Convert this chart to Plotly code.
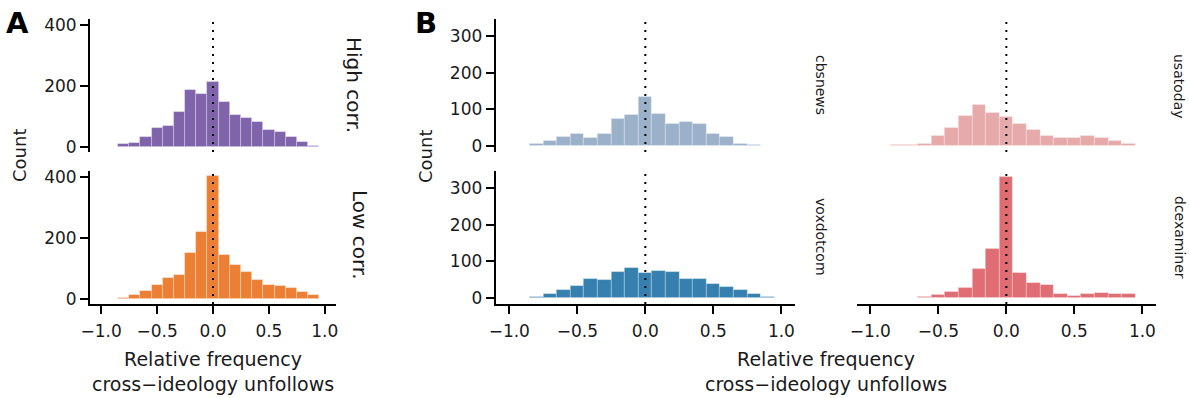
import plotly.graph_objects as go

# ---------------- data ----------------
bin_centers = [-0.8, -0.7, -0.6, -0.5, -0.4, -0.3, -0.2, -0.1, 0.0,
               0.1, 0.2, 0.3, 0.4, 0.5, 0.6, 0.7, 0.8, 0.9]
high_corr = [8, 14, 31, 61, 70, 114, 186, 172, 212, 148, 103, 94, 80, 54, 50, 32, 16, 4]
low_corr = [4, 12, 25, 44, 70, 77, 152, 221, 402, 144, 112, 89, 63, 47, 41, 35, 22, 13]
cbsnews = [7, 14, 25, 34, 22, 33, 75, 85, 133, 87, 59, 67, 61, 32, 24, 7, 2, 0]
usatoday = [2, 2, 5, 28, 49, 81, 111, 89, 80, 61, 45, 28, 21, 23, 27, 23, 15, 6]
voxdotcom = [2, 12, 22, 33, 51, 50, 70, 83, 69, 75, 70, 51, 51, 39, 30, 21, 10, 2]
dcexaminer = [1, 0, 4, 9, 17, 27, 80, 135, 330, 68, 41, 36, 11, 7, 10, 13, 11, 11]

x_tickvals = [-1.0, -0.5, 0.0, 0.5, 1.0]
x_ticktext = ["\u22121.0", "\u22120.5", "0.0", "0.5", "1.0"]
yA_tickvals = [0, 200, 400]
yB_tickvals = [0, 100, 200, 300]

# ---------------- layout helpers ----------------
W, H = 1189, 398
FONT = "DejaVu Sans"
TXT = "#1a1a1a"


def fx(px):
    return px / W


def fy(px):
    return 1 - px / H


fig = go.Figure()

panels = [
    # (values, color, axis suffix)
    (high_corr, "#7F64AC", ""),
    (low_corr, "#EC7F34", "2"),
    (cbsnews, "#9BB0C9", "3"),
    (usatoday, "#E6AAAA", "4"),
    (voxdotcom, "#3580AE", "5"),
    (dcexaminer, "#E06C74", "6"),
]

for vals, col, sfx in panels:
    fig.add_trace(go.Bar(
        x=bin_centers, y=vals, width=0.1,
        marker=dict(color=col, line=dict(color="rgba(255,255,255,0.35)", width=0.8)),
        xaxis="x" + sfx, yaxis="y" + sfx, showlegend=False, hoverinfo="x+y",
    ))
    fig.add_shape(type="line", xref="x" + sfx, yref="y" + sfx + " domain",
                  x0=0, x1=0, y0=0, y1=1,
                  line=dict(color="black", width=2, dash="2px,6px"), layer="above")

axis_common = dict(showgrid=False, zeroline=False, linecolor="black", linewidth=2,
                   ticks="outside", ticklen=8, tickwidth=2, tickcolor="black",
                   automargin=False,
                   tickfont=dict(family=FONT, size=17, color=TXT))

xA = [fx(90), fx(336)]
xBL = [fx(495.7), fx(795)]
xBR = [fx(856.7), fx(1156)]
yTop = [fy(152), fy(19)]
yBot = [fy(304), fy(171)]
xr = [-1.1, 1.1]
yAr = [-17, 420]
yBr = [-16, 346]


def xax(domain, anchor, show):
    if show:
        return dict(axis_common, domain=domain, range=xr, anchor=anchor, showline=True,
                    tickvals=x_tickvals, ticktext=x_ticktext, ticklabelstandoff=3)
    return dict(domain=domain, range=xr, anchor=anchor, visible=False, showgrid=False,
                automargin=False)


def yax(domain, rng, anchor, tickvals, show):
    if show:
        return dict(axis_common, domain=domain, range=rng, anchor=anchor, showline=True,
                    tickvals=tickvals)
    return dict(domain=domain, range=rng, anchor=anchor, visible=False, showgrid=False,
                automargin=False)


fig.update_layout(
    xaxis=xax(xA, "y", False), yaxis=yax(yTop, yAr, "x", yA_tickvals, True),
    xaxis2=xax(xA, "y2", True), yaxis2=yax(yBot, yAr, "x2", yA_tickvals, True),
    xaxis3=xax(xBL, "y3", False), yaxis3=yax(yTop, yBr, "x3", yB_tickvals, True),
    xaxis4=xax(xBR, "y4", False), yaxis4=yax(yTop, yBr, "x4", yB_tickvals, False),
    xaxis5=xax(xBL, "y5", True), yaxis5=yax(yBot, yBr, "x5", yB_tickvals, True),
    xaxis6=xax(xBR, "y6", True), yaxis6=yax(yBot, yBr, "x6", yB_tickvals, False),
)

ann = []


def text(x, y, s, size, angle=0, bold=False):
    ann.append(dict(x=fx(x), y=fy(y), xref="paper", yref="paper", text=s,
                    showarrow=False, textangle=angle, xanchor="center", yanchor="middle",
                    font=dict(family=FONT, size=size, color=TXT if not bold else "black")))


text(17, 23, "<b>A</b>", 29, bold=True)
text(426, 23, "<b>B</b>", 29, bold=True)
text(20, 156, "Count", 18, angle=-90)
text(425, 157, "Count", 18, angle=-90)
text(213, 371, "Relative frequency<br>cross\u2212ideology unfollows", 19)
text(826, 371, "Relative frequency<br>cross\u2212ideology unfollows", 19)
text(354, 85, "High corr.", 20, angle=90)
text(360, 235, "Low corr.", 20, angle=90)
text(821, 85, "cbsnews", 14, angle=90)
text(1179, 86, "usatoday", 14, angle=90)
text(821, 237, "voxdotcom", 14, angle=90)
text(1180, 237, "dcexaminer", 14, angle=90)

fig.update_layout(
    annotations=ann,
    width=W, height=H, autosize=False,
    margin=dict(l=0, r=0, t=0, b=0),
    paper_bgcolor="white", plot_bgcolor="white",
    bargap=0, showlegend=False,
    font=dict(family=FONT, color=TXT),
)

fig.write_html("out.html")
